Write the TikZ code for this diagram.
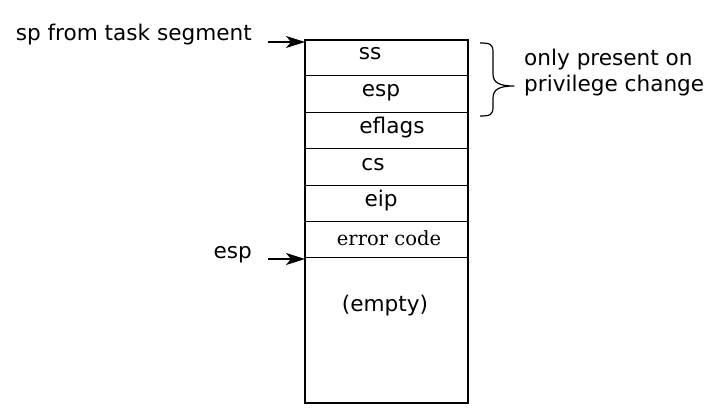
\documentclass[tikz,border=0pt]{standalone}
\usepackage{fontspec}
\setmainfont{DejaVu Sans}
\newfontfamily\codeserif{DejaVu Serif}
\usetikzlibrary{arrows.meta}
\begin{document}
\begin{tikzpicture}[x=1pt,y=-1pt,
  lbl/.style={font=\fontsize{21.6}{26}\selectfont, inner sep=0pt, anchor=base},
  ptr/.style={line width=1.2pt,-{Stealth[length=19pt,width=12pt,inset=5pt]}},
  box/.style={line width=1.3pt}]
\useasboundingbox (0,0) rectangle (726,414);
% stack box
\coordinate (tl) at (305,40);
\coordinate (br) at (468,403);
\draw[box] (tl) rectangle (br);
\foreach \y in {76,113,149,186,222,258} \draw[line width=1pt] (305,\y) -- (468,\y);
\node[lbl] (ss) at (370,60) {ss};
\node[lbl] (esp1) at (381,97) {esp};
\node[lbl] (efl) at (392,134) {eflags};
\node[lbl] (cs) at (373,171) {cs};
\node[lbl] (eip) at (381,207) {eip};
\node[inner sep=0pt, anchor=base, font=\codeserif\fontsize{19.5}{22}\selectfont] (err) at (389,246) {error code};
\node[lbl] (empty) at (385,312) {(empty)};
% pointers
\node[lbl, anchor=base east] (sp) at (252,41) {sp from task segment};
\node[lbl, anchor=base east] (espl) at (252,259) {esp};
\coordinate (a1) at (268,42);
\coordinate (b1) at (305,42);
\coordinate (a2) at (268,259);
\coordinate (b2) at (305,259);
\draw[ptr] (a1) -- (b1);
\draw[ptr] (a2) -- (b2);
% brace
\coordinate (bt) at (480,43);
\coordinate (bb) at (480,116);
\coordinate (btip) at (514,86);
\draw[line width=1.2pt, line join=round]
  (bt) .. controls (490,43) and (493,44) .. (493,52) -- (493,74)
  .. controls (493,83) and (500,86) .. (btip)
  .. controls (500,86) and (493,89) .. (493,98) -- (493,107)
  .. controls (493,115) and (490,116) .. (bb);
\node[lbl, anchor=base west] (note1) at (524,66) {only present on};
\node[lbl, anchor=base west] (note2) at (524,92) {privilege change};
\end{tikzpicture}
\end{document}
